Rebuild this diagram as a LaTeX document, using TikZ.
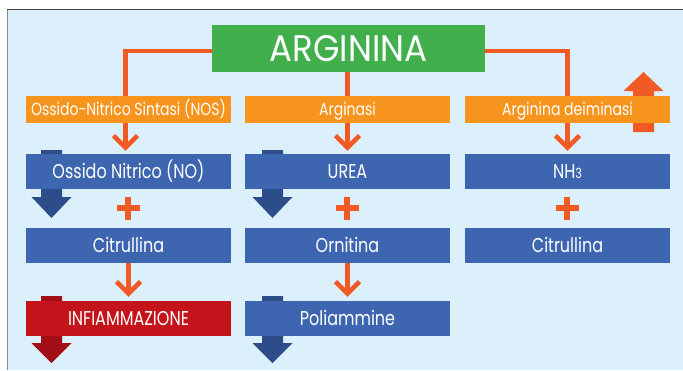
\documentclass[tikz,border=0pt]{standalone}
\usepackage{fontspec}
\setmainfont{Poppins}[FakeStretch=0.8]
\newfontfamily\argfont{Poppins}[FakeStretch=0.92]
\usetikzlibrary{arrows.meta}

\definecolor{bgblue}{HTML}{DBF0FB}
\definecolor{arggreen}{HTML}{41AF4B}
\definecolor{enzorange}{HTML}{F7941E}
\definecolor{flowred}{HTML}{F15A24}
\definecolor{boxblue}{HTML}{3E66B0}
\definecolor{dkblue}{HTML}{2D4C8A}
\definecolor{boxred}{HTML}{C3141B}
\definecolor{dkred}{HTML}{A30F16}

\pgfdeclarelayer{back}
\pgfdeclarelayer{links}
\pgfsetlayers{back,links,main}

\tikzset{
	enzyme/.style={fill=enzorange, text=white, minimum width=205pt, minimum height=27pt, inner sep=0pt,
		font=\fontsize{17.5}{17.5}\selectfont, text height=12pt, text depth=0pt},
	product/.style={fill=boxblue, text=white, minimum width=205pt, minimum height=35pt, inner sep=0pt,
		font=\fontsize{20}{20}\selectfont, text height=14pt, text depth=0pt},
	flow/.style={flowred, line width=4.5pt, -{Straight Barb[length=12pt,width=24pt]}},
}

\begin{document}
\begin{tikzpicture}[x=1pt, y=-1pt]
		\useasboundingbox (0,0) rectangle (683,370);
		\begin{pgfonlayer}{back}
		\fill[white] (0,0) rectangle (683,370);
		\fill[bgblue] (7,9) rectangle (683,370);
		\draw[gray!90, line width=1.5pt] (7.5,370) -- (7.5,9.5);
		\draw[black!75, line width=1.5pt] (7,9.5) -- (683,9.5);
		\end{pgfonlayer}

		% boxes
		\node[fill=arggreen, text=white, minimum width=273pt, minimum height=47pt, inner sep=0pt,
			font=\argfont\fontsize{37}{37}\selectfont, text height=26pt, text depth=0pt] (arg) at (348.5,48.5) {ARGININA};
		\node[enzyme] (nos) at (128.5,109.5) {Ossido-Nitrico Sintasi (NOS)};
		\node[enzyme] (ase) at (347.5,109.5) {Arginasi};
		\node[enzyme] (dei) at (567.5,109.5) {Arginina deiminasi};
		\node[product] (no) at (128.5,171.5) {Ossido Nitrico (NO)};
		\node[product] (urea) at (347.5,171.5) {UREA};
		\node[product] (nh) at (567.5,171.5) {NH{\fontsize{14}{14}\selectfont 3}};
		\node[product] (cit1) at (128.5,245.5) {Citrullina};
		\node[product] (orn) at (347.5,245.5) {Ornitina};
		\node[product] (cit2) at (567.5,245.5) {Citrullina};
		\node[product, fill=boxred] (inf) at (128.5,318.5) {INFIAMMAZIONE};
		\node[product] (pol) at (347.5,318.5) {Poliammine};

		% connectors and block arrows, behind the boxes
		\begin{pgfonlayer}{links}
		\draw[flow] ([yshift=-2.5pt]arg.west) -| ([xshift=-3pt,yshift=3pt]no.north);
		\draw[flow] (arg.south -| urea.north) -- ([yshift=3pt]urea.north);
		\draw[flow] ([yshift=-2.5pt]arg.east) -| ([yshift=3pt]nh.north);
		\draw[flow] (cit1.south) -- ([yshift=4pt]inf.north);
		\draw[flow] (orn.south) -- ([yshift=4pt]pol.north);

		\fill[dkblue] (41,150) -- (62,150) -- (62,197) -- (71.5,197) -- (51.5,218) -- (31.5,197) -- (41,197) -- cycle;
		\fill[dkblue] (262,150) -- (283,150) -- (283,197) -- (292.5,197) -- (272.5,218) -- (252.5,197) -- (262,197) -- cycle;
		\fill[dkred] (41,296) -- (62,296) -- (62,343) -- (71.5,343) -- (51.5,363) -- (31.5,343) -- (41,343) -- cycle;
		\fill[dkblue] (262,296) -- (283,296) -- (283,343) -- (292.5,343) -- (272.5,363) -- (252.5,343) -- (262,343) -- cycle;
		\fill[flowred] (633,132) -- (654,132) -- (654,91) -- (663.5,91) -- (643.5,72) -- (623.5,91) -- (633,91) -- cycle;
		\end{pgfonlayer}

		% plus signs
		\foreach \x in {128,347,567} {
			\fill[flowred] (\x-11.5,205) rectangle (\x+11.5,211);
			\fill[flowred] (\x-3,196.5) rectangle (\x+3,219.5);
		}
	\end{tikzpicture}
\end{document}
